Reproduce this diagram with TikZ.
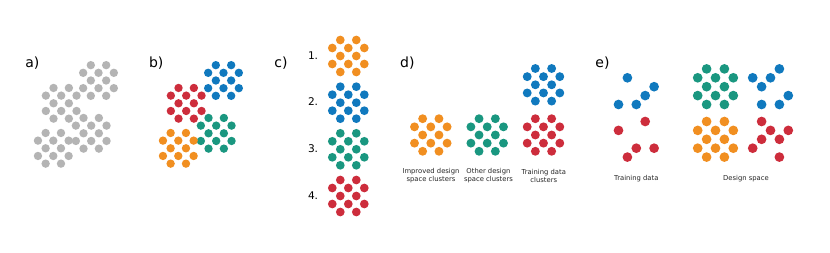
\documentclass[tikz,border=0pt]{standalone}
\usepackage{fontspec}
\setmainfont{DejaVu Sans}
\definecolor{corange}{RGB}{241,143,33}
\definecolor{cblue}{RGB}{16,121,190}
\definecolor{cgreen}{RGB}{26,151,128}
\definecolor{cred}{RGB}{205,45,60}
\definecolor{cgray}{RGB}{180,180,180}
\newcommand\dotclus[4]{%
  \foreach \dx/\dy in {-1/-2,1/-2,-2/-1,0/-1,2/-1,-1/0,1/0,-2/1,0/1,2/1,-1/2,1/2}
    {\fill[#4] ({#1+\dx*#3},{#2+\dy*#3}) circle[radius={0.545*#3*1pt}];}%
}
\newcommand\dotpart[5]{%
  \foreach \dx/\dy in {#5}
    {\fill[#4] ({#1+\dx*#3},{#2+\dy*#3}) circle[radius={0.545*#3*1pt}];}%
}
\begin{document}
\begin{tikzpicture}[x=1pt,y=-1pt,
  panel/.style={font=\fontsize{14}{14}\selectfont, inner sep=0pt, anchor=base west},
  num/.style={font=\fontsize{10.6}{10.6}\selectfont, inner sep=0pt, anchor=base west},
  captext/.style={font=\fontsize{6.8}{8.3}\selectfont, inner sep=0pt, align=center, anchor=center, text=black!85}]
\useasboundingbox (0,0) rectangle (830,253);
\fill[white] (0,0) rectangle (830,253);

% panel labels
\node[panel] (la) at (25.2,67.7) {a)};
\node[panel] (lb) at (148.8,67.7) {b)};
\node[panel] (lc) at (274.2,67.7) {c)};
\node[panel] (ld) at (400,67.7) {d)};
\node[panel] (le) at (595.2,67.7) {e)};

% a) gray clusters
\dotclus{98.5}{80.5}{7.67}{cgray}
\dotclus{61.2}{103.3}{7.67}{cgray}
\dotclus{91.2}{133.3}{7.67}{cgray}
\dotclus{53.3}{148.3}{7.67}{cgray}

% b) coloured clusters
\dotclus{223.5}{80.5}{7.67}{cblue}
\dotclus{186.2}{103.3}{7.67}{cred}
\dotclus{216.2}{133.3}{7.67}{cgreen}
\dotclus{178.3}{148.3}{7.67}{corange}

% c) ranked clusters
\node[num] (n1) at (307.8,59.3) {1.};
\node[num] (n2) at (307.8,106.0) {2.};
\node[num] (n3) at (307.8,152.6) {3.};
\node[num] (n4) at (307.8,199.3) {4.};
\dotclus{348.3}{56}{8}{corange}
\dotclus{348.3}{102.7}{8}{cblue}
\dotclus{348.3}{149.3}{8}{cgreen}
\dotclus{348.3}{196}{8}{cred}

% d)
\dotclus{430.8}{135}{8.15}{corange}
\dotclus{487.2}{135}{8.15}{cgreen}
\dotclus{543.5}{135}{8.15}{cred}
\dotclus{543.5}{84.8}{8.15}{cblue}
\node[captext] (cd1) at (431,175.8) {Improved design\\space clusters};
\node[captext] (cd2) at (488.5,175.8) {Other design\\space clusters};
\node[captext] (cd3) at (543.8,175.8) {Training data\\clusters};

% e) training data
\dotpart{636.3}{86.7}{8.9}{cblue}{-1/-1,2/0,1/1,-2/2,0/2}
\dotpart{636.3}{139.3}{8.9}{cred}{1/-2,-2/-1,0/1,2/1,-1/2}
% e) design space
\dotclus{715.5}{86.7}{8.9}{cgreen}
\dotclus{715.5}{139.3}{8.9}{corange}
\dotpart{770.5}{86.7}{8.9}{cblue}{1/-2,-2/-1,0/-1,-1/0,2/1,-1/2,1/2}
\dotpart{770.5}{139.3}{8.9}{cred}{-1/-2,0/-1,2/-1,-1/0,1/0,-2/1,1/2}
\node[captext] (ce1) at (636.3,178.3) {Training data};
\node[captext] (ce2) at (746,178.3) {Design space};
\end{tikzpicture}
\end{document}
